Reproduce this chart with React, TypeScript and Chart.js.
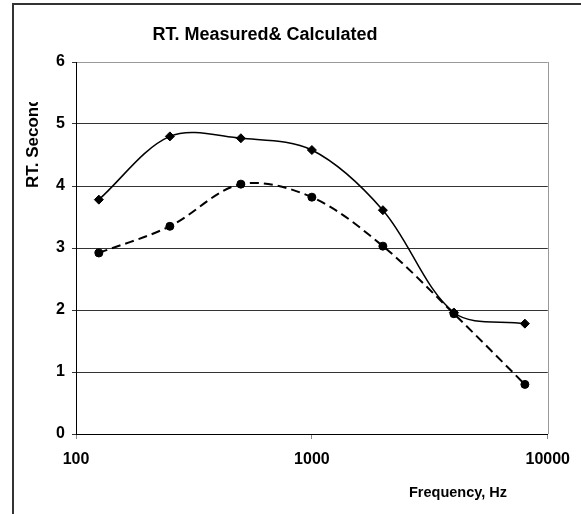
import React, { useEffect, useRef } from "react";
import { Chart, registerables } from "chart.js";

Chart.register(...registerables);

const frequencies = [125, 250, 500, 1000, 2000, 4000, 8000];
const measured = [3.78, 4.8, 4.77, 4.58, 3.61, 1.96, 1.78];
const calculated = [2.92, 3.35, 4.03, 3.82, 3.03, 1.94, 0.8];
const xTicks = [100, 1000, 10000];
const yTicks = [0, 1, 2, 3, 4, 5, 6];

const TITLE = "RT. Measured& Calculated";
const Y_TITLE = "RT. Seconds";
const X_TITLE = "Frequency, Hz";
const FONT = "'Liberation Sans', Arial, sans-serif";

const decorPlugin = {
  id: "decor",
  beforeDraw(chart: any) {
    const ctx = chart.ctx;
    ctx.save();
    ctx.fillStyle = "#fff";
    ctx.fillRect(0, 0, chart.width, chart.height);
    ctx.restore();
  },
  afterDraw(chart: any) {
    const ctx = chart.ctx;
    const a = chart.chartArea;
    ctx.save();
    // outer frame
    ctx.strokeStyle = "#333";
    ctx.lineWidth = 2;
    ctx.strokeRect(13, 4, 1000, 1000);
    // plot area right border (gray)
    ctx.strokeStyle = "#999";
    ctx.lineWidth = 1;
    ctx.beginPath();
    ctx.moveTo(Math.round(a.right) + 0.5, a.top);
    ctx.lineTo(Math.round(a.right) + 0.5, a.bottom);
    ctx.stroke();
    // title
    ctx.fillStyle = "#000";
    ctx.font = `bold 18px ${FONT}`;
    ctx.textAlign = "center";
    ctx.textBaseline = "middle";
    ctx.fillText(TITLE, 265, 35);
    // x title
    ctx.font = `bold 14.5px ${FONT}`;
    ctx.textAlign = "right";
    ctx.fillText(X_TITLE, 507, 493);
    // y title (clipped as in the original)
    ctx.save();
    ctx.beginPath();
    ctx.rect(0, 102, 70, 200);
    ctx.clip();
    ctx.translate(33, 188);
    ctx.rotate(-Math.PI / 2);
    ctx.font = `bold 17px ${FONT}`;
    ctx.textAlign = "left";
    ctx.textBaseline = "middle";
    ctx.fillText(Y_TITLE, 0, 0);
    ctx.restore();
    ctx.restore();
  },
};

export default function App() {
  const ref = useRef<HTMLCanvasElement | null>(null);

  useEffect(() => {
    document.body.style.margin = "0";
    const canvas = ref.current;
    if (!canvas) return;
    const chart = new Chart(canvas, {
      type: "line",
      data: {
        datasets: [
          {
            label: "Measured",
            data: frequencies.map((f, i) => ({ x: f, y: measured[i] })),
            borderColor: "#000",
            backgroundColor: "#000",
            borderWidth: 1.5,
            pointStyle: "rectRot",
            pointRadius: 4.5,
            pointBorderWidth: 1,
            tension: 0.33,
            fill: false,
          },
          {
            label: "Calculated",
            data: frequencies.map((f, i) => ({ x: f, y: calculated[i] })),
            borderColor: "#000",
            backgroundColor: "#000",
            borderWidth: 2,
            borderDash: [9, 5],
            pointStyle: "circle",
            pointRadius: 4,
            pointBorderWidth: 1,
            tension: 0.33,
            fill: false,
          },
        ],
      },
      options: {
        responsive: false,
        animation: false,
        layout: { padding: { left: 0, right: 30, top: 62, bottom: 0 } },
        plugins: {
          legend: { display: false },
          title: { display: false },
          tooltip: { enabled: false },
        },
        scales: {
          x: {
            type: "logarithmic",
            min: 100,
            max: 10000,
            afterBuildTicks: (scale: any) => {
              scale.ticks = xTicks.map((v) => ({ value: v }));
            },
            afterFit: (scale: any) => {
              scale.height = 80;
            },
            ticks: {
              autoSkip: false,
              maxRotation: 0,
              padding: 11,
              color: "#000",
              font: { family: FONT, size: 16, weight: "bold" },
              callback: (v: any) => String(v),
            },
            grid: {
              drawOnChartArea: false,
              drawTicks: true,
              tickLength: 5,
              color: "#888",
            },
            border: { display: true, color: "#000", width: 1 },
          },
          y: {
            type: "linear",
            min: 0,
            max: 6,
            afterBuildTicks: (scale: any) => {
              scale.ticks = yTicks.map((v) => ({ value: v }));
            },
            afterFit: (scale: any) => {
              scale.width = 76;
            },
            ticks: {
              padding: 7,
              color: "#000",
              font: { family: FONT, size: 16, weight: "bold" },
            },
            grid: {
              color: (c: any) => (c.tick && c.tick.value === 6 ? "#999" : "#333"),
              tickColor: "#333",
              tickLength: 4,
              lineWidth: 1,
            },
            border: { display: true, color: "#000", width: 1 },
          },
        },
      },
      plugins: [decorPlugin],
    } as any);
    return () => chart.destroy();
  }, []);

  return <canvas ref={ref} width={581} height={514} style={{ display: "block", width: 581, height: 514 }} />;
}
